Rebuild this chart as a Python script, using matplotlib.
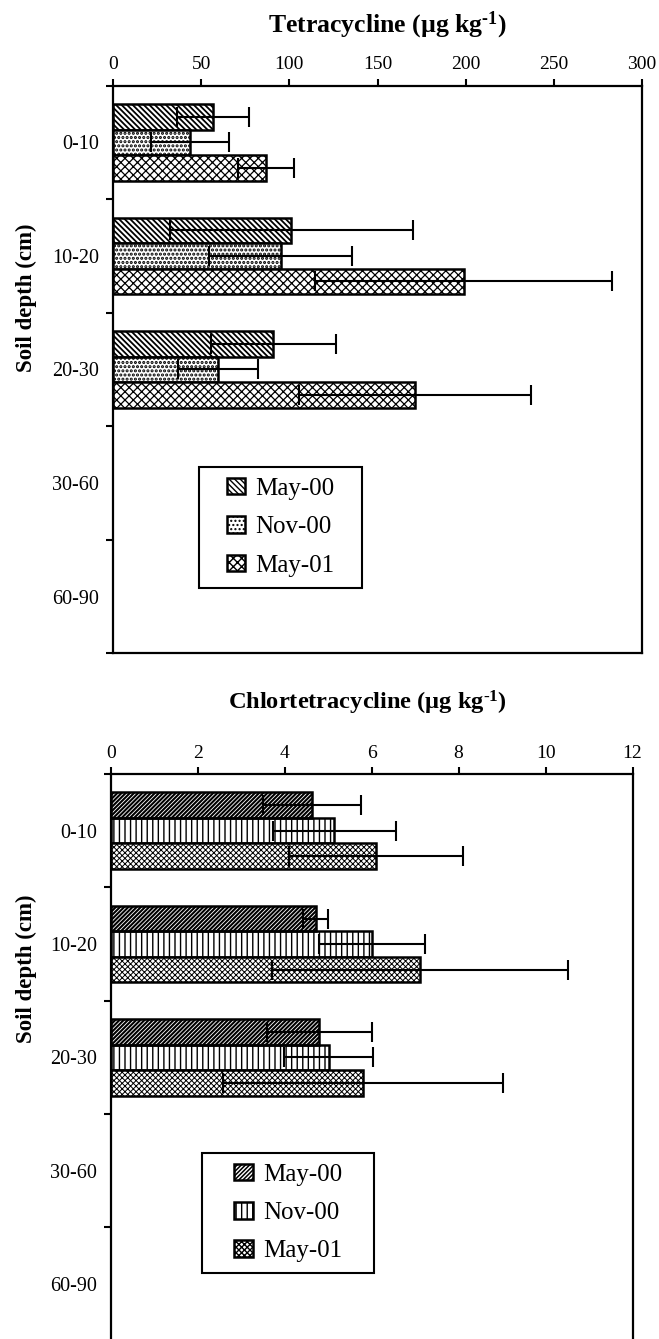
import matplotlib
matplotlib.use('Agg')
import matplotlib.pyplot as plt
from matplotlib.patches import Rectangle
from matplotlib.legend_handler import HandlerTuple
import numpy as np

# ---------------- data ----------------
depths = ['0-10', '10-20', '20-30', '30-60', '60-90']
seasons = ['May-00', 'Nov-00', 'May-01']

tc_may00 = [56.7, 101.2, 90.9]
tc_may00_sd = [20.3, 69.0, 35.3]
tc_nov00 = [43.7, 95.1, 59.5]
tc_nov00_sd = [22.0, 40.4, 22.5]
tc_may01 = [86.9, 198.8, 171.3]
tc_may01_sd = [16.0, 84.0, 65.6]

ctc_may00 = [4.63, 4.71, 4.80]
ctc_may00_sd = [1.12, 0.29, 1.20]
ctc_nov00 = [5.14, 6.01, 5.01]
ctc_nov00_sd = [1.41, 1.22, 1.02]
ctc_may01 = [6.10, 7.11, 5.80]
ctc_may01_sd = [2.00, 3.41, 3.22]

tc_xticks = [0, 50, 100, 150, 200, 250, 300]
ctc_xticks = [0, 2, 4, 6, 8, 10, 12]

# ---------------- style ----------------
plt.rcParams['font.family'] = ['Liberation Serif', 'DejaVu Serif']
plt.rcParams['mathtext.fontset'] = 'custom'
plt.rcParams['mathtext.rm'] = 'Liberation Serif:bold'
plt.rcParams['mathtext.bf'] = 'Liberation Serif:bold'
plt.rcParams['mathtext.it'] = 'Liberation Serif:bold'
plt.rcParams['hatch.linewidth'] = 1.0

W, H = 659, 1339
fig = plt.figure(figsize=(W / 100, H / 100), dpi=100)


def px_axes(l, t, r, b):
    return fig.add_axes([l / W, 1 - b / H, (r - l) / W, (b - t) / H])


def set_hlw(patches, lw):
    for p in patches:
        if hasattr(p, 'set_hatch_linewidth'):
            p.set_hatch_linewidth(lw)


def draw_panel(ax, means, sds, styles, xticks, xpad, ylpad):
    ncat = len(depths)
    h = 0.225
    handles = []
    for i, (m, s, st) in enumerate(zip(means, sds, styles)):
        y = np.arange(len(m)) + 0.5 + (i - 1) * h
        if st.get('dark'):
            bf = ax.barh(y, m, height=h, color='black', edgecolor='white',
                         hatch=st['hatch'], linewidth=0, zorder=2)
            set_hlw(bf, st['hlw'])
            bo = ax.barh(y, m, height=h, fill=False, edgecolor='black',
                         linewidth=1.8, zorder=3)
            handles.append((bf[0], bo[0]))
        else:
            b = ax.barh(y, m, height=h, color='white', edgecolor='black',
                        hatch=st['hatch'], linewidth=1.8, zorder=2)
            set_hlw(b, st['hlw'])
            handles.append(b[0])
        ax.errorbar(m, y, xerr=s, fmt='none', ecolor='black', elinewidth=1.5,
                    capsize=7.5, capthick=1.5, zorder=4)
    ax.set_ylim(ncat, 0)
    ax.set_xlim(xticks[0], xticks[-1])
    ax.xaxis.tick_top()
    ax.set_xticks(xticks)
    ax.set_xticklabels([str(t) for t in xticks])
    ax.tick_params(axis='x', direction='out', length=5, width=1.5,
                   pad=xpad, labelsize=14)
    ax.set_yticks(np.arange(ncat + 1))
    ax.set_yticklabels([])
    ax.set_yticks(np.arange(ncat) + 0.5, minor=True)
    ax.set_yticklabels(depths, minor=True)
    ax.tick_params(axis='y', which='major', direction='out', length=5, width=1.5)
    ax.tick_params(axis='y', which='minor', length=0, pad=ylpad, labelsize=14.5)
    for sp in ax.spines.values():
        sp.set_linewidth(1.6)
    return handles


# ---------------- top panel ----------------
ax1 = px_axes(112.9, 85.5, 642.1, 653.3)
h1 = draw_panel(ax1,
                [tc_may00, tc_nov00, tc_may01],
                [tc_may00_sd, tc_nov00_sd, tc_may01_sd],
                [{'hatch': '\\' * 6, 'hlw': 1.3},
                 {'hatch': '....', 'hlw': 1.5},
                 {'hatch': 'xxxx', 'hlw': 0.9}],
                tc_xticks, 4, 10)

# ---------------- bottom panel ----------------
ax2 = px_axes(110.7, 774, 632.5, 1340.7)
h2 = draw_panel(ax2,
                [ctc_may00, ctc_nov00, ctc_may01],
                [ctc_may00_sd, ctc_nov00_sd, ctc_may01_sd],
                [{'hatch': '/' * 8, 'dark': True, 'hlw': 0.6},
                 {'hatch': '|||', 'hlw': 1.0},
                 {'hatch': 'x' * 6, 'hlw': 0.7}],
                ctc_xticks, 3.5, 10)

# ---------------- titles ----------------
sup = r'$^{\text{-}1}$'
fig.text(387 / W, 1 - 25 / H, 'Tetracycline (µg kg' + sup + ')', ha='center',
         va='center', fontsize=18.5, fontweight='bold')
fig.text(367 / W, 1 - 703 / H, 'Chlortetracycline (µg kg' + sup + ')', ha='center',
         va='center', fontsize=17.6, fontweight='bold')
fig.text(26 / W, 1 - 298 / H, 'Soil depth (cm)', rotation=90, ha='center',
         va='center', fontsize=16.5, fontweight='bold')
fig.text(26 / W, 1 - 969 / H, 'Soil depth (cm)', rotation=90, ha='center',
         va='center', fontsize=16.5, fontweight='bold')


# ---------------- legends ----------------
def add_legend(handles, l, t, r, b):
    fig.patches.append(Rectangle((l / W, 1 - b / H), (r - l) / W, (b - t) / H,
                                 transform=fig.transFigure, fill=False,
                                 edgecolor='black', linewidth=1.5))
    fig.legend(handles, seasons, loc='center',
               bbox_to_anchor=((l + r) / 2 / W, 1 - (t + b) / 2 / H),
               bbox_transform=fig.transFigure, frameon=False, fontsize=18,
               handlelength=0.75, handleheight=0.65, handletextpad=0.4,
               labelspacing=0.65,
               handler_map={tuple: HandlerTuple(ndivide=1, pad=0)})


add_legend(h1, 199.3, 466.7, 361.7, 587.7)
add_legend(h2, 201.7, 1152.7, 374.3, 1273.3)

fig.savefig('out.png', dpi=100)
